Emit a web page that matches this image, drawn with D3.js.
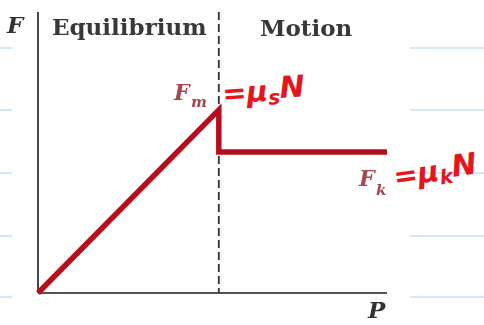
<!DOCTYPE html>
<html>
<head>
<meta charset="utf-8">
<script src="https://cdn.jsdelivr.net/npm/d3@7/dist/d3.min.js"></script>
<style>
  html, body { margin: 0; padding: 0; background: #fff; }
  svg { display: block; }
</style>
</head>
<body>
<svg id="chart" width="484" height="325"></svg>
<script>
// Friction force F versus applied force P (in units of the peak static value)
const pushP   = [0, 1, 1, 1.93];
const frictF  = [0, 1, 0.77, 0.77];
const regions = ["Equilibrium", "Motion"];
const pMax = 1.93, fMax = 1.535, pSlip = 1;

// ruled notebook lines behind the figure
const ruleRows = [48, 110, 173, 236, 297];

const svg = d3.select("#chart");
const W = 484, H = 325;

const x = d3.scaleLinear().domain([0, pMax]).range([38, 387]);
const y = d3.scaleLinear().domain([0, fMax]).range([293, 12]);

// notebook rules
svg.append("g").selectAll("g").data(ruleRows).join("g").each(function (r) {
  const g = d3.select(this);
  g.append("line").attr("x1", 0).attr("x2", 12).attr("y1", r).attr("y2", r);
  g.append("line").attr("x1", 410).attr("x2", W).attr("y1", r).attr("y2", r);
}).attr("stroke", "#c4e2f6").attr("stroke-width", 1.6);

const defs = svg.append("defs");
defs.append("filter").attr("id", "soft").append("feGaussianBlur").attr("stdDeviation", 0.55);

const fig = svg.append("g").attr("filter", "url(#soft)");

// axes
fig.append("line")
  .attr("x1", x(0)).attr("x2", x(0)).attr("y1", y(fMax)).attr("y2", y(0))
  .attr("stroke", "#4a4a4a").attr("stroke-width", 2);
fig.append("line")
  .attr("x1", x(0)).attr("x2", x(pMax)).attr("y1", y(0)).attr("y2", y(0))
  .attr("stroke", "#4f5552").attr("stroke-width", 2.2);

// boundary between equilibrium and motion
fig.append("line")
  .attr("x1", x(pSlip)).attr("x2", x(pSlip)).attr("y1", y(fMax)).attr("y2", y(0))
  .attr("stroke", "#333").attr("stroke-width", 1.8)
  .attr("stroke-dasharray", "8,4");

// friction curve
const line = d3.line().x((d, i) => x(pushP[i])).y(d => y(d));
fig.append("path")
  .attr("d", line(frictF))
  .attr("fill", "none").attr("stroke", "#b8101a").attr("stroke-width", 5.5)
  .attr("stroke-linejoin", "miter");

const serif = "'DejaVu Serif', serif";

// region labels
fig.append("text").attr("x", 52).attr("y", 35)
  .attr("font-family", serif).attr("font-weight", "bold").attr("font-size", 23)
  .attr("fill", "#383838").text(regions[0]);
fig.append("text").attr("x", 260).attr("y", 36)
  .attr("font-family", serif).attr("font-weight", "bold").attr("font-size", 23)
  .attr("fill", "#383838").text(regions[1]);

// axis names
fig.append("text").attr("x", 7).attr("y", 33)
  .attr("font-family", serif).attr("font-style", "italic").attr("font-weight", "bold")
  .attr("font-size", 23).attr("fill", "#333").text("F");
fig.append("text").attr("x", 368).attr("y", 318)
  .attr("font-family", serif).attr("font-style", "italic").attr("font-weight", "bold")
  .attr("font-size", 23).attr("fill", "#333").text("P");

// F_m and F_k labels
function subLabel(px, py, sub, sx, sy) {
  const t = fig.append("text")
    .attr("font-family", serif).attr("font-style", "italic").attr("font-weight", "bold")
    .attr("fill", "#a8444e");
  t.append("tspan").attr("x", px).attr("y", py).attr("font-size", 22).text("F");
  t.append("tspan").attr("x", sx).attr("y", sy).attr("font-size", 15).text(sub);
}
subLabel(174, 100, "m", 191, 107);
subLabel(359, 186, "k", 376, 195);

// handwritten notes
const hand = "'DejaVu Sans', sans-serif";
function note(tx, ty, rot, sub) {
  const t = svg.append("text")
    .attr("transform", `translate(${tx},${ty}) rotate(${rot})`)
    .attr("font-family", hand).attr("font-style", "italic").attr("font-weight", "bold")
    .attr("fill", "#e8141c");
  t.append("tspan").attr("x", 0).attr("y", 0).attr("font-size", 29).text("=\u03bc");
  t.append("tspan").attr("font-size", 20).attr("dy", 4).text(sub);
  t.append("tspan").attr("font-size", 30).attr("dy", -6).text("N");
}
note(223, 104, -4, "s");
note(395, 187, -8, "k");
</script>
</body>
</html>
